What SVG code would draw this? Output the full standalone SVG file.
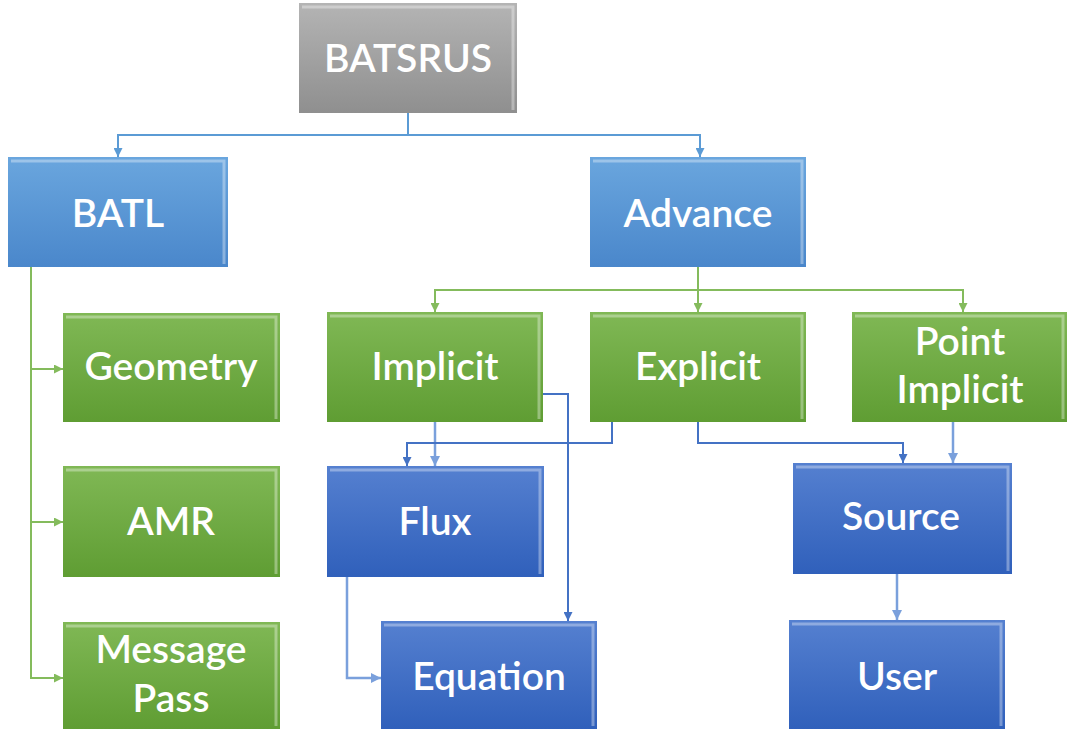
<svg xmlns="http://www.w3.org/2000/svg" width="1069" height="731" viewBox="0 0 1069 731">
<defs>
<linearGradient id="gGray" x1="0" y1="0" x2="0" y2="1"><stop offset="0" stop-color="#b4b4b4"/><stop offset="1" stop-color="#8f8f8f"/></linearGradient>
<linearGradient id="gLB" x1="0" y1="0" x2="0" y2="1"><stop offset="0" stop-color="#6aa6de"/><stop offset="1" stop-color="#4a87cb"/></linearGradient>
<linearGradient id="gGr" x1="0" y1="0" x2="0" y2="1"><stop offset="0" stop-color="#80b855"/><stop offset="1" stop-color="#5f9d33"/></linearGradient>
<linearGradient id="gDB" x1="0" y1="0" x2="0" y2="1"><stop offset="0" stop-color="#5580d0"/><stop offset="1" stop-color="#3060bb"/></linearGradient>
<marker id="aLB" viewBox="0 0 10 10" refX="10" refY="5" markerWidth="4.5" markerHeight="4.5" orient="auto"><path d="M0,0 L10,5 L0,10 z" fill="#5b9bd5"/></marker>
<marker id="aGr" viewBox="0 0 10 10" refX="10" refY="5" markerWidth="4.5" markerHeight="4.5" orient="auto"><path d="M0,0 L10,5 L0,10 z" fill="#84bb5c"/></marker>
<marker id="aDB" viewBox="0 0 10 10" refX="10" refY="5" markerWidth="4.5" markerHeight="4.5" orient="auto"><path d="M0,0 L10,5 L0,10 z" fill="#4472c4"/></marker>
<marker id="aPB" viewBox="0 0 10 10" refX="10" refY="5" markerWidth="4" markerHeight="4" orient="auto"><path d="M0,0 L10,5 L0,10 z" fill="#7aa0dc"/></marker>
</defs>
<style>
.lbl{font-family:Lato,"Liberation Sans",sans-serif;font-size:39px;font-weight:600;fill:#ffffff;text-anchor:middle}
.gray{fill:url(#gGray)} .lb{fill:url(#gLB)} .gr{fill:url(#gGr)} .db{fill:url(#gDB)}
.hl{fill:none;stroke:#ffffff;stroke-opacity:0.35;stroke-width:3}
.cLB{fill:none;stroke:#5b9bd5;stroke-width:2;marker-end:url(#aLB)}
.cGr{fill:none;stroke:#84bb5c;stroke-width:2;marker-end:url(#aGr)}
.cDB{fill:none;stroke:#4472c4;stroke-width:2;marker-end:url(#aDB)}
.cPB{fill:none;stroke:#7aa0dc;stroke-width:2.5;marker-end:url(#aPB)}
</style>
<rect width="1069" height="731" fill="#ffffff"/>
<g id="connectors">
<path class="cLB" d="M408,113 V135 H118 V157"/>
<path class="cLB" d="M408,135 H700 V157"/>
<path class="cGr" d="M31,267 V369 H63"/>
<path class="cGr" d="M31,369 V522 H63"/>
<path class="cGr" d="M31,522 V678 H63"/>
<path class="cGr" d="M698,267 V290 H435 V312"/>
<path class="cGr" d="M698,290 V312"/>
<path class="cGr" d="M698,290 H963 V312"/>
<path class="cPB" d="M435,422 V466"/>
<path class="cDB" d="M612,422 V443 H407 V466"/>
<path class="cDB" d="M543,394 H568 V621"/>
<path class="cDB" d="M698,422 V443 H903 V463"/>
<path class="cPB" d="M953,422 V463"/>
<path class="cPB" d="M897,574 V620"/>
<path class="cPB" d="M347,577 V678 H381"/>
</g>
<g id="BATSRUS"><rect class="gray" x="299" y="3" width="218" height="110"/><path class="hl" d="M302,7 H513 V110"/><text class="lbl" x="408" y="72">BATSRUS</text></g>
<g id="BATL"><rect class="lb" x="8" y="157" width="220" height="110"/><path class="hl" d="M11,161 H224 V264"/><text class="lbl" x="118" y="227">BATL</text></g>
<g id="Advance"><rect class="lb" x="590" y="157" width="216" height="110"/><path class="hl" d="M593,161 H802 V264"/><text class="lbl" x="698" y="227">Advance</text></g>
<g id="Geometry"><rect class="gr" x="63" y="313" width="217" height="109"/><path class="hl" d="M66,317 H276 V419"/><text class="lbl" x="171" y="380">Geometry</text></g>
<g id="AMR"><rect class="gr" x="63" y="466" width="217" height="111"/><path class="hl" d="M66,470 H276 V574"/><text class="lbl" x="171" y="535">AMR</text></g>
<g id="MessagePass"><rect class="gr" x="63" y="622" width="217" height="107"/><path class="hl" d="M66,626 H276 V726"/><text class="lbl" x="171" y="663">Message</text><text class="lbl" x="171" y="712">Pass</text></g>
<g id="Implicit"><rect class="gr" x="327" y="312" width="216" height="110"/><path class="hl" d="M330,316 H539 V419"/><text class="lbl" x="435" y="380">Implicit</text></g>
<g id="Explicit"><rect class="gr" x="590" y="312" width="216" height="110"/><path class="hl" d="M593,316 H802 V419"/><text class="lbl" x="698" y="380">Explicit</text></g>
<g id="PointImplicit"><rect class="gr" x="852" y="312" width="215" height="110"/><path class="hl" d="M855,316 H1063 V419"/><text class="lbl" x="960" y="355">Point</text><text class="lbl" x="960" y="403">Implicit</text></g>
<g id="Flux"><rect class="db" x="327" y="466" width="217" height="111"/><path class="hl" d="M330,470 H540 V574"/><text class="lbl" x="435" y="535">Flux</text></g>
<g id="Source"><rect class="db" x="793" y="463" width="219" height="111"/><path class="hl" d="M796,467 H1008 V571"/><text class="lbl" x="901" y="530">Source</text></g>
<g id="Equation"><rect class="db" x="381" y="621" width="216" height="108"/><path class="hl" d="M384,625 H593 V726"/><text class="lbl" x="489" y="690">Equation</text></g>
<g id="User"><rect class="db" x="789" y="620" width="216" height="109"/><path class="hl" d="M792,624 H1001 V726"/><text class="lbl" x="897" y="690">User</text></g>
</svg>
